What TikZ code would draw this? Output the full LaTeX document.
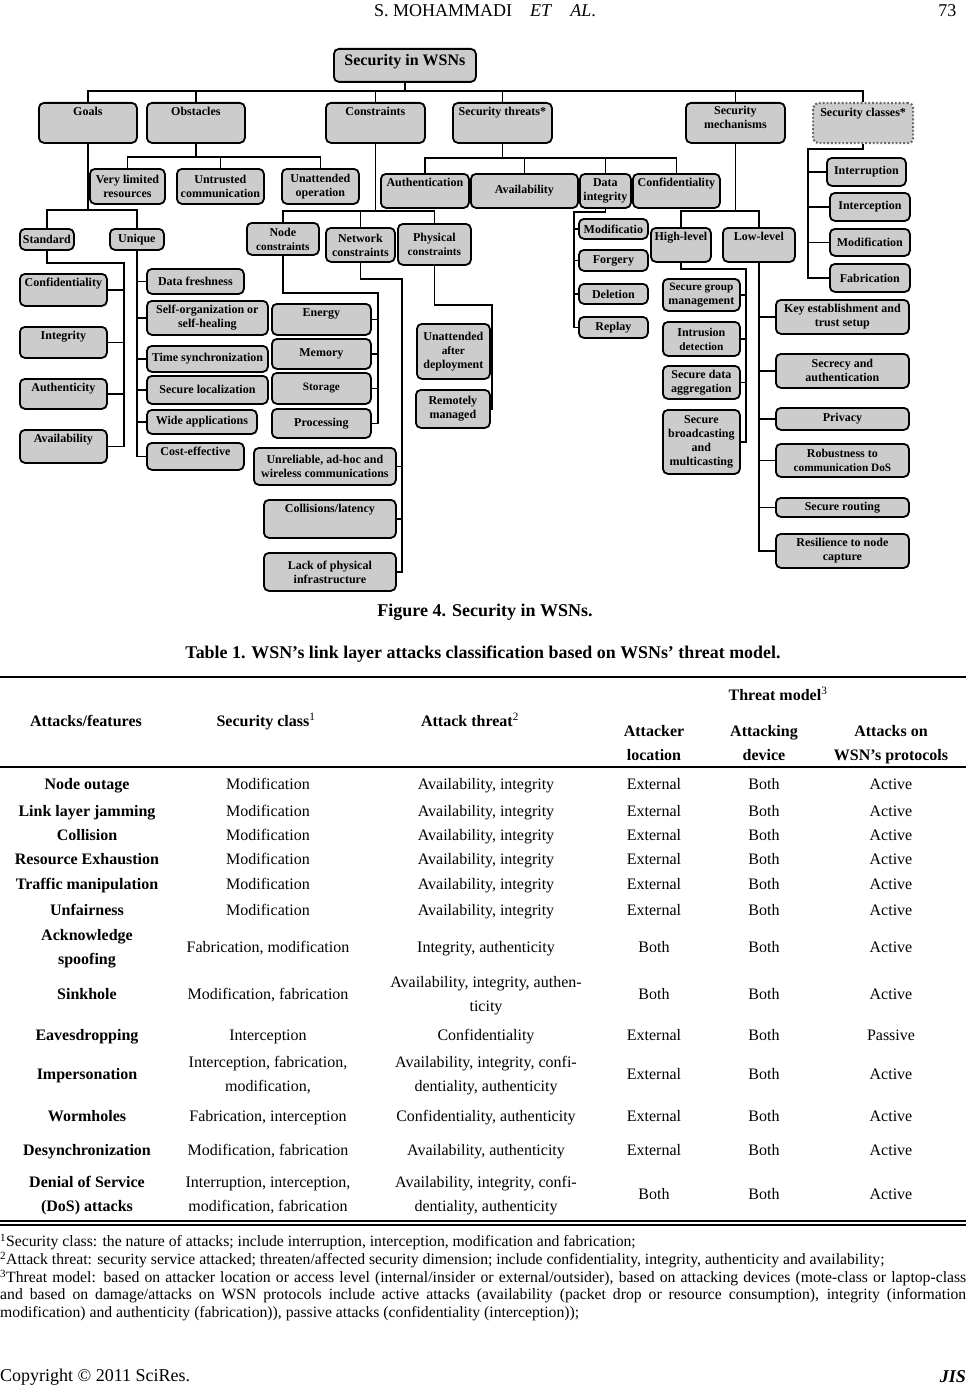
\documentclass[tikz,border=0pt]{standalone}
\usepackage{fontspec}
\setmainfont{Liberation Serif}
\usepackage{tikz}
\definecolor{boxgray}{RGB}{204,204,204}
\definecolor{dotgray}{RGB}{105,105,105}
\newcommand{\fsz}[2]{\fontsize{#1}{#2}\selectfont}
\newcommand{\sml}{\fontsize{11.3}{13}\selectfont}

\begin{document}
\begin{tikzpicture}[x=1pt,y=-1pt,
        box/.style={draw, line width=1.8pt, fill=boxgray, rounded corners=5pt, anchor=north west, inner sep=2pt, align=center, font=\bfseries\fsz{12}{14}},
        wh/.style 2 args={minimum width=#1pt, minimum height=#2pt},
        toptext/.style={text height=11pt, text depth=#1pt},
        conn/.style={line width=1.8pt},
        cell/.style={align=center, inner sep=0pt, font=\fsz{16}{23.5}},
        hcell/.style={cell, font=\bfseries\fsz{16}{23.5}},
        note/.style={anchor=west, inner sep=0pt, font=\fsz{15.7}{18}},
        rule/.style={line width=1.4pt}
    ]
    \fill[white] (0,0) rectangle (966,1386);
    \useasboundingbox (0,0) rectangle (966,1386);

    % Running head
    \node[font=\fsz{18}{20}] (runhead) at (485,11) {S. MOHAMMADI\quad\textit{ET}\quad\textit{AL}.};
    \node[font=\fsz{18}{20}, anchor=east] (pagenum) at (960,11) {73};

    % Root and first level
    \node[box, wh={142}{33}, font=\bfseries\fsz{16}{19}, text height=15pt, text depth=14pt] (root) at (333,48) {Security in WSNs};
    \node[box, wh={98}{40}, toptext=25] (goals) at (38,102) {Goals};
    \node[box, wh={98}{40}, toptext=25] (obstacles) at (146,102) {Obstacles};
    \node[box, wh={99}{40}, toptext=25] (constraints) at (325,102) {Constraints};
    \node[box, wh={99}{40}, toptext=25] (threats) at (452,102) {Security threats*};
    \node[box, wh={99}{40}, text depth=11pt] (mechanisms) at (685,102) {Security\\mechanisms};
    \node[box, wh={100}{40}, toptext=25, draw=dotgray, dotted, line width=2.2pt] (classes) at (812,102) {Security classes*};

    % Obstacles
    \node[box, wh={75}{35}] (limited) at (89,168) {Very limited\\resources};
    \node[box, wh={87}{35}] (untrusted) at (176,168) {Untrusted\\communication};
    \node[box, wh={77}{35}] (unattended) at (281,168) {Unattended\\operation};

    % Goals
    \node[box, wh={54}{21}] (standard) at (19,228) {Standard};
    \node[box, wh={54}{21}] (unique) at (109,228) {Unique};
    \node[box, wh={87}{32}, toptext=17] (confg) at (19,273) {Confidentiality};
    \node[box, wh={87}{31}, toptext=16] (integg) at (19,326) {Integrity};
    \node[box, wh={87}{30}, toptext=15] (authg) at (19,378) {Authenticity};
    \node[box, wh={87}{33}, toptext=18] (availg) at (19,429) {Availability};
    \node[box, wh={97}{25}] (fresh) at (146,268) {Data freshness};
    \node[box, wh={121}{34}] (selforg) at (146,300) {Self-organization or\\self-healing};
    \node[box, wh={121}{26}] (timesync) at (146,345) {Time synchronization};
    \node[box, wh={121}{28}] (secloc) at (146,375) {Secure localization};
    \node[box, wh={110}{24}] (wideapp) at (146,409) {Wide applications};
    \node[box, wh={97}{27}, toptext=12] (costeff) at (146,442) {Cost-effective};

    % Constraints
    \node[box, wh={72}{32}] (nodec) at (246,222) {Node\\{\sml constraints}};
    \node[box, wh={69}{34}] (netc) at (325,227) {Network\\constraints};
    \node[box, wh={73}{41}] (physc) at (397,223) {Physical\\{\sml constraints}};
    \node[box, wh={99}{31}, toptext=16] (energy) at (271,303) {Energy};
    \node[box, wh={99}{30}] (memory) at (271,338) {Memory};
    \node[box, wh={99}{31}] (storage) at (271,372) {{\sml Storage}};
    \node[box, wh={99}{29}] (processing) at (271,408) {Processing};
    \node[box, wh={142}{37}] (unreliable) at (253,447) {Unreliable, ad-hoc and\\wireless communications};
    \node[box, wh={132}{38}, toptext=23] (collisions) at (263,499) {Collisions/latency};
    \node[box, wh={132}{38}] (lack) at (263,552) {Lack of physical\\infrastructure};
    \node[box, wh={73}{55}] (afterdep) at (416,323) {Unattended\\{\sml after}\\deployment};
    \node[box, wh={74}{38}] (remote) at (415,389) {Remotely\\managed};

    % Security threats
    \node[box, wh={88}{34}, toptext=19] (authn) at (380,173) {Authentication};
    \node[box, wh={107}{34}] (availt) at (470,173) {Availability};
    \node[box, wh={51}{34}] (dataint) at (579,173) {Data\\integrity};
    \node[box, wh={87}{34}, toptext=19] (conft) at (632,173) {Confidentiality};
    \node[box, wh={69}{20}] (modif) at (578,218) {Modificatio};
    \node[box, wh={69}{21}] (forgery) at (578,249) {Forgery};
    \node[box, wh={69}{20}] (deletion) at (578,283) {Deletion};
    \node[box, wh={69}{21}] (replay) at (578,316) {Replay};

    % Security mechanisms
    \node[box, wh={60}{34}, toptext=19] (high) at (650,227) {High-level};
    \node[box, wh={72}{34}, toptext=19] (low) at (722,227) {Low-level};
    \node[box, wh={77}{32}] (group) at (662,278) {{\sml Secure group}\\management};
    \node[box, wh={77}{34}] (intrusion) at (662,321) {Intrusion\\{\sml detection}};
    \node[box, wh={77}{33}] (aggreg) at (662,365) {Secure data\\aggregation};
    \node[box, wh={77}{64}] (broadcast) at (662,409) {Secure\\broadcasting\\and\\multicasting};
    \node[box, wh={133}{34}] (key) at (775,299) {Key establishment and\\trust setup};
    \node[box, wh={133}{34}] (secrecy) at (775,353) {Secrecy and\\authentication};
    \node[box, wh={133}{22}] (privacy) at (775,407) {Privacy};
    \node[box, wh={133}{33}] (robust) at (775,443) {Robustness to\\{\sml communication DoS}};
    \node[box, wh={133}{19}] (routing) at (775,497) {Secure routing};
    \node[box, wh={133}{34}] (resil) at (775,533) {Resilience to node\\capture};

    % Security classes
    \node[box, wh={79}{28}] (interrupt) at (826,157) {Interruption};
    \node[box, wh={80}{28}] (intercept) at (829,192) {Interception};
    \node[box, wh={80}{27}] (modcls) at (829,228) {Modification};
    \node[box, wh={80}{28}] (fabric) at (829,263) {Fabrication};

    % Tree lines
    \coordinate (topbus) at (0,91);
    \draw[conn] (root.south) -- (root.south |- topbus);
    \draw[conn] (goals.north) -- (goals.north |- topbus) -- (classes.north |- topbus) -- (classes.north);
    \foreach \n in {obstacles,constraints,threats,mechanisms}
        \draw[conn] (\n.north) -- (\n.north |- topbus);

    \coordinate (obsbus) at (0,157);
    \draw[conn] (obstacles.south) -- (obstacles.south |- obsbus);
    \draw[conn] (limited.north) -- (limited.north |- obsbus) -- (unattended.north |- obsbus) -- (unattended.north);
    \draw[conn] (untrusted.north) -- (untrusted.north |- obsbus);

    \coordinate (goalbus) at (0,210);
    \draw[conn] (goals.south) -- (goals.south |- goalbus);
    \draw[conn] (standard.north) -- (standard.north |- goalbus) -- (unique.north |- goalbus) -- (unique.north);
    \coordinate (stdbus) at (124,263);
    \draw[conn] (standard.south) |- (stdbus) |- (availg.east);
    \foreach \n in {confg,integg,authg}
        \draw[conn] (\n.east) -- (\n.east -| stdbus);
    \draw[conn] (unique.south) |- (costeff.west);
    \foreach \n in {fresh,selforg,timesync,secloc,wideapp}
        \draw[conn] (\n.west) -- (\n.west -| unique.south);

    \coordinate (conbus) at (0,211);
    \draw[conn] (constraints.south) -- (constraints.south |- conbus);
    \draw[conn] (nodec.north) -- (nodec.north |- conbus) -- (physc.north |- conbus) -- (physc.north);
    \draw[conn] (netc.north) -- (netc.north |- conbus);
    \coordinate (ncbus) at (378,293);
    \draw[conn] (nodec.south) |- (ncbus) |- (processing.east);
    \foreach \n in {energy,memory,storage}
        \draw[conn] (\n.east) -- (\n.east -| ncbus);
    \coordinate (netbus) at (402,279);
    \draw[conn] (netc.south) |- (netbus) |- (lack.east);
    \foreach \n in {unreliable,collisions}
        \draw[conn] (\n.east) -- (\n.east -| netbus);
    \coordinate (phbus) at (492,305);
    \draw[conn] (physc.south) |- (phbus) |- (remote.east);
    \draw[conn] (afterdep.east) -- (afterdep.east -| phbus);

    \coordinate (thrbus) at (0,158);
    \draw[conn] (threats.south) -- (threats.south |- thrbus);
    \draw[conn] (authn.north) -- (authn.north |- thrbus) -- (conft.north |- thrbus) -- (conft.north);
    \foreach \n in {availt,dataint}
        \draw[conn] (\n.north) -- (\n.north |- thrbus);
    \coordinate (dibus) at (574,212);
    \draw[conn] (dataint.south) |- (dibus) |- (replay.west);
    \foreach \n in {modif,forgery,deletion}
        \draw[conn] (\n.west) -- (\n.west -| dibus);

    \coordinate (mechbus) at (0,211);
    \draw[conn] (mechanisms.south) -- (mechanisms.south |- mechbus);
    \draw[conn] (high.north) -- (high.north |- mechbus) -- (low.north |- mechbus) -- (low.north);
    \coordinate (hlbus) at (746,269);
    \draw[conn] (high.south) |- (hlbus) |- (broadcast.east);
    \foreach \n in {group,intrusion,aggreg}
        \draw[conn] (\n.east) -- (\n.east -| hlbus);
    \draw[conn] (low.south) |- (resil.west);
    \foreach \n in {key,secrecy,privacy,robust,routing}
        \draw[conn] (\n.west) -- (\n.west -| low.south);

    \coordinate (clsbus) at (808,149);
    \draw[conn] (classes.south) |- (clsbus) |- (fabric.west);
    \foreach \n in {interrupt,intercept,modcls}
        \draw[conn] (\n.west) -- (\n.west -| clsbus);

    % Captions
    \node[font=\bfseries\fsz{18}{20}] (figcap) at (485,612) {Figure 4. Security in WSNs.};
    \node[font=\bfseries\fsz{17.9}{20}] (tabcap) at (483,654) {Table 1. WSN’s link layer attacks classification based on WSNs’ threat model.};

    % Table
    \draw[rule] (0,677) -- (966,677);
    \draw[rule] (0,767) -- (966,767);
    \draw[rule] (0,1221) -- (966,1221);
    \draw[rule] (0,1225) -- (966,1225);
    \node[hcell] (hmodel) at (778,696) {\strut Threat model\textsuperscript{\mdseries 3}\strut};
    \node[hcell] (hattack) at (86,722) {\strut Attacks/features\strut};
    \node[hcell] (hclass) at (266,722) {\strut Security class\textsuperscript{\mdseries 1}\strut};
    \node[hcell] (hthreat) at (470,722) {\strut Attack threat\textsuperscript{\mdseries 2}\strut};
    \node[hcell] (hloc) at (654,744) {\strut Attacker\\location\strut};
    \node[hcell] (hdev) at (764,744) {\strut Attacking\\device\strut};
    \node[hcell] (hprot) at (891,744) {\strut Attacks on\\WSN’s protocols\strut};

    \foreach \ry/\ca/\cb/\cc/\cd/\ce/\cf [count=\r] in {
        785/Node outage/Modification/{Availability, integrity}/External/Both/Active,
        812/Link layer jamming/Modification/{Availability, integrity}/External/Both/Active,
        836/Collision/Modification/{Availability, integrity}/External/Both/Active,
        860/Resource Exhaustion/Modification/{Availability, integrity}/External/Both/Active,
        885/Traffic manipulation/Modification/{Availability, integrity}/External/Both/Active,
        911/Unfairness/Modification/{Availability, integrity}/External/Both/Active,
        948/Acknowledge\\spoofing/{Fabrication, modification}/{Integrity, authenticity}/Both/Both/Active,
        995/Sinkhole/{Modification, fabrication}/{Availability, integrity, authen-\\ticity}/Both/Both/Active,
        1036/Eavesdropping/Interception/Confidentiality/External/Both/Passive,
        1075/Impersonation/{Interception, fabrication,\\modification,}/{Availability, integrity, confi-\\dentiality, authenticity}/External/Both/Active,
        1117/Wormholes/{Fabrication, interception}/{Confidentiality, authenticity}/External/Both/Active,
        1151/Desynchronization/{Modification, fabrication}/{Availability, authenticity}/External/Both/Active,
        1195/Denial of Service\\(DoS) attacks/{Interruption, interception,\\modification, fabrication}/{Availability, integrity, confi-\\dentiality, authenticity}/Both/Both/Active}{
        \node[hcell] (att\r) at (87,\ry) {\strut\ca\strut};
        \node[cell] (cls\r) at (268,\ry) {\strut\cb\strut};
        \node[cell] (thr\r) at (486,\ry) {\strut\cc\strut};
        \node[cell] (loc\r) at (654,\ry) {\strut\cd\strut};
        \node[cell] (dev\r) at (764,\ry) {\strut\ce\strut};
        \node[cell] (prot\r) at (891,\ry) {\strut\cf\strut};
    }

    % Notes
    \node[note] (fn1) at (0,1242) {\textsuperscript{1}Security class: the nature of attacks; include interruption, interception, modification and fabrication;};
    \node[note] (fn2) at (0,1260) {\textsuperscript{2}Attack threat: security service attacked; threaten/affected security dimension; include confidentiality, integrity, authenticity and availability;};
    \node[note] (fn3a) at (0,1278) {\makebox[966pt][s]{\textsuperscript{3}Threat model: based on attacker location or access level (internal/insider or external/outsider), based on attacking devices (mote-class or laptop-class}};
    \node[note] (fn3b) at (0,1296) {\makebox[966pt][s]{and based on damage/attacks on WSN protocols include active attacks (availability (packet drop or resource consumption), integrity (information}};
    \node[note] (fn3c) at (0,1314) {modification) and authenticity (fabrication)), passive attacks (confidentiality (interception));};

    % Footer
    \node[anchor=west, inner sep=0pt, font=\fsz{18}{20}] (copyr) at (0,1377) {Copyright © 2011 SciRes.};
    \node[anchor=east, inner sep=0pt, font=\bfseries\itshape\fsz{18}{20}] (journal) at (966,1377) {JIS};
\end{tikzpicture}
\end{document}
